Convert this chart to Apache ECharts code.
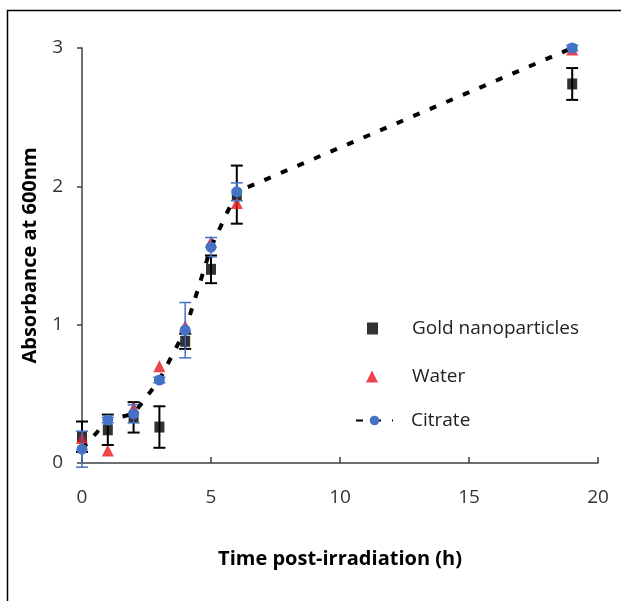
<!DOCTYPE html>
<html>
<head>
<meta charset="utf-8">
<script src="https://cdn.jsdelivr.net/npm/echarts@6/dist/echarts.min.js"></script>
<style>html,body{margin:0;padding:0;background:#fff}#c{width:621px;height:601px}</style>
</head>
<body>
<div id="c"></div>
<script>
const hours = [0, 1, 2, 3, 4, 5, 6, 19];
const goldValues = [0.19, 0.24, 0.33, 0.26, 0.88, 1.40, 1.94, 2.74];
const goldErrors = [0.11, 0.11, 0.11, 0.15, 0.055, 0.10, 0.21, 0.115];
const waterValues = [0.18, 0.09, 0.40, 0.70, 0.99, 1.60, 1.88, 2.99];
const citrateValues = [0.10, 0.31, 0.355, 0.60, 0.96, 1.56, 1.96, 3.00];
const citrateErrors = [0.13, 0.02, 0.065, 0.02, 0.20, 0.07, 0.065, 0.02];
const xTicks = [0, 5, 10, 15, 20];
const yTicks = [0, 1, 2, 3];

const FONT = 'Open Sans';
const pairs = (xs, ys) => xs.map((x, i) => [x, ys[i]]);
const errData = (xs, ys, es) => xs.map((x, i) => [x, ys[i] - es[i], ys[i] + es[i]]);

function errRender(color, width, cap) {
  return function (params, api) {
    const x = api.value(0), lo = api.value(1), hi = api.value(2);
    const a = api.coord([x, hi]), b = api.coord([x, lo]);
    const h = cap / 2;
    const st = { stroke: color, lineWidth: width };
    return {
      type: 'group',
      children: [
        { type: 'line', shape: { x1: a[0], y1: a[1], x2: b[0], y2: b[1] }, style: st },
        { type: 'line', shape: { x1: a[0] - h, y1: a[1], x2: a[0] + h, y2: a[1] }, style: st },
        { type: 'line', shape: { x1: b[0] - h, y1: b[1], x2: b[0] + h, y2: b[1] }, style: st }
      ]
    };
  };
}

const legendText = { fontFamily: FONT, fontSize: 19, color: '#222' };
function makeLegend(name, left, top, w, h, textStart) {
  return {
    orient: 'vertical', left: left, top: top, padding: 0,
    itemWidth: w, itemHeight: h,
    data: [name],
    textStyle: Object.assign({}, legendText, { padding: [0, 0, 0, textStart - (left + w + 5)] })
  };
}

const chart = echarts.init(document.getElementById('c'), null, { renderer: 'canvas' });
chart.setOption({
  animation: false,
  backgroundColor: '#fff',
  textStyle: { fontFamily: FONT },
  graphic: [{
    type: 'rect', silent: true, z: -10,
    shape: { x: 7.5, y: 10.5, width: 800, height: 800 },
    style: { fill: 'none', stroke: '#000', lineWidth: 1.5 }
  }],
  grid: { left: 82, right: 23, top: 48, bottom: 138, containLabel: false },
  legend: [
    makeLegend('Gold nanoparticles', 367, 319, 11, 12, 412),
    makeLegend('Water', 366, 367, 12, 12, 412),
    makeLegend('Citrate', 355, 411, 37, 12, 410)
  ],
  xAxis: {
    type: 'value', min: 0, max: 20, interval: 5,
    name: 'Time post-irradiation (h)', nameLocation: 'middle', nameGap: 86,
    nameTextStyle: { fontFamily: FONT, fontSize: 20, fontWeight: 'bold', color: '#000' },
    axisLine: { lineStyle: { color: '#404040', width: 1.5 } },
    axisTick: { inside: true, length: 6, lineStyle: { color: '#404040', width: 1.5 } },
    axisLabel: { margin: 25, fontSize: 19, color: '#333', fontFamily: FONT,
      customValues: xTicks },
    splitLine: { show: false }
  },
  yAxis: {
    type: 'value', min: 0, max: 3, interval: 1,
    name: 'Absorbance at 600nm', nameLocation: 'middle', nameGap: 42,
    nameTextStyle: { fontFamily: FONT, fontSize: 20, fontWeight: 'bold', color: '#000' },
    axisLine: { show: true, lineStyle: { color: '#404040', width: 1.5 } },
    axisTick: { show: true, inside: false, length: 5, lineStyle: { color: '#404040', width: 1.5 } },
    axisLabel: { margin: 19, fontSize: 19, color: '#333', fontFamily: FONT },
    splitLine: { show: false }
  },
  series: [
    {
      type: 'custom', name: 'goldErr', z: 2,
      renderItem: errRender('#000', 2, 12),
      encode: { x: 0, y: [1, 2] },
      data: errData(hours, goldValues, goldErrors)
    },
    {
      type: 'scatter', name: 'Gold nanoparticles', z: 3,
      symbol: 'rect', symbolSize: [10, 11],
      itemStyle: { color: '#000' },
      data: pairs(hours, goldValues)
    },
    {
      type: 'scatter', name: 'Water', z: 4,
      symbol: 'triangle', symbolSize: [12, 12],
      itemStyle: { color: '#E8161C' },
      data: pairs(hours, waterValues)
    },
    {
      type: 'custom', name: 'citrateErr', z: 5,
      renderItem: errRender('#4472C4', 1.5, 12),
      encode: { x: 0, y: [1, 2] },
      data: errData(hours, citrateValues, citrateErrors)
    },
    {
      type: 'line', name: 'Citrate', z: 6,
      symbol: 'circle', symbolSize: 11, showSymbol: true,
      lineStyle: { color: '#000', width: 4, type: [7, 11] },
      itemStyle: { color: '#4472C4' },
      data: pairs(hours, citrateValues)
    }
  ]
});
</script>
</body>
</html>
